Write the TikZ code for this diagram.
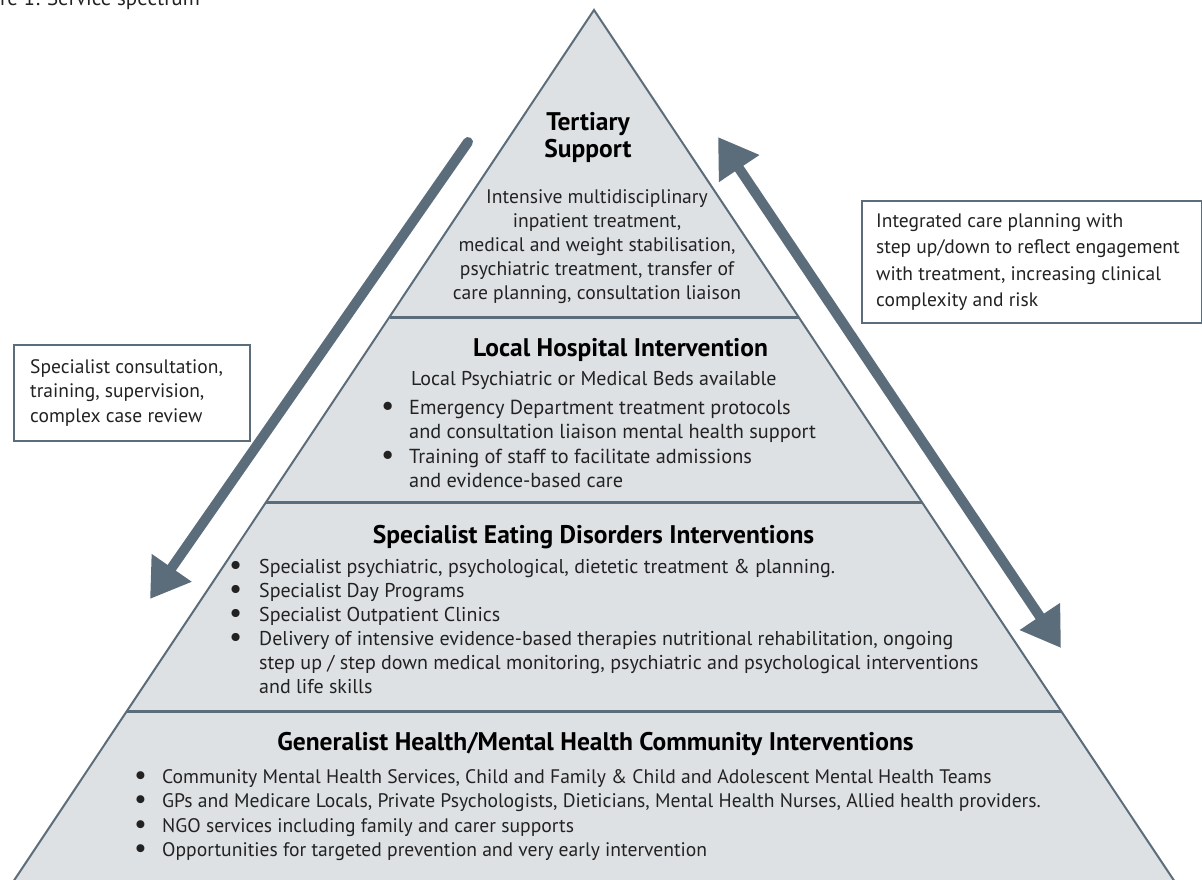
\documentclass[tikz,border=0pt]{standalone}
\usepackage{fontspec}
\setmainfont{PT Sans}
\usetikzlibrary{arrows.meta}
\definecolor{slate}{HTML}{5B6D7A}
\definecolor{pyrfill}{HTML}{DEE1E4}
\definecolor{txt}{HTML}{222222}
\newcommand\bdot{\smash{\raisebox{-1.2pt}{\scalebox{1.45}{\textbullet}}}}
\newcommand\bitem{\makebox[28pt][l]{\bdot}}
\newcommand\bitemw{\makebox[30pt][l]{\bdot}}
\begin{document}
\begin{tikzpicture}[x=1pt,y=-1pt,
  layer/.style={fill=pyrfill,draw=slate,line width=2pt,line join=miter},
  sep/.style={draw=slate,line width=3pt},
  bigarrow/.style={draw=slate,line width=10pt},
  box/.style={draw=slate,line width=2pt,fill=white},
  body/.style={inner sep=0pt,text=txt,font=\fontsize{19.5}{24.5}\selectfont},
  title/.style={inner sep=0pt,text=black,font=\bfseries\fontsize{25.5}{27}\selectfont},
]
\clip (0,0) rectangle (1202,879);
\fill[white] (0,0) rectangle (1202,879);

% pyramid
\coordinate (apex) at (594,10);
\coordinate (bl) at (1,900);
\coordinate (br) at (1187,900);
\path[layer] (apex) -- (bl) -- (br) -- cycle;
\coordinate (s1l) at (389.5,317); \coordinate (s1r) at (798.5,317);
\coordinate (s2l) at (266,502);   \coordinate (s2r) at (922,502);
\coordinate (s3l) at (127,711);   \coordinate (s3r) at (1061,711);
\draw[sep] (s1l) -- (s1r);
\draw[sep] (s2l) -- (s2r);
\draw[sep] (s3l) -- (s3r);

% caption
\node[body,anchor=base east,font=\fontsize{21}{24}\selectfont] (caption) at (200,5) {Figure 1: Service spectrum};

% tertiary
\node[title,anchor=base] (t1) at (588,130) {\begin{tabular}[t]{@{}c@{}}Tertiary\\Support\end{tabular}};
\node[body,anchor=base] (t2) at (597,203) {\fontsize{19.6}{24}\selectfont\begin{tabular}[t]{@{}c@{}}
Intensive multidisciplinary\\
inpatient treatment,\\
medical and weight stabilisation,\\
psychiatric treatment, transfer of\\
care planning, consultation liaison\end{tabular}};

% local hospital
\node[title,anchor=base] (l1) at (620.5,356) {Local Hospital Intervention};
\node[body,anchor=base west,font=\fontsize{20}{24.5}\selectfont] (l2) at (411,385) {Local Psychiatric or Medical Beds available};
\node[body,anchor=base west,font=\fontsize{20.3}{24.5}\selectfont] (l3) at (381,414) {\begin{tabular}[t]{@{}l@{}l@{}}
\bitem & Emergency Department treatment protocols\\
 & and consultation liaison mental health support\\
\bitem & Training of staff to facilitate admissions\\
 & and evidence-based care\end{tabular}};

% specialist
\node[title,anchor=base] (e1) at (593.5,543) {Specialist Eating Disorders Interventions};
\node[body,anchor=base west] (e2) at (229,573) {\fontsize{20}{24}\selectfont\begin{tabular}[t]{@{}l@{}l@{}}
\bitemw & Specialist psychiatric, psychological, dietetic treatment \& planning.\\
\bitemw & Specialist Day Programs\\
\bitemw & Specialist Outpatient Clinics\\
\bitemw & Delivery of intensive evidence-based therapies nutritional rehabilitation, ongoing\\
 & step up / step down medical monitoring, psychiatric and psychological interventions\\
 & and life skills\end{tabular}};

% generalist
\node[title,anchor=base] (g1) at (595.5,750) {Generalist Health/Mental Health Community Interventions};
\node[body,anchor=base west,font=\fontsize{19.6}{24.5}\selectfont] (g2) at (134,783) {\begin{tabular}[t]{@{}l@{}l@{}}
\bitem & Community Mental Health Services, Child and Family \& Child and Adolescent Mental Health Teams\\
\bitem & GPs and Medicare Locals, Private Psychologists, Dieticians, Mental Health Nurses, Allied health providers.\\
\bitem & NGO services including family and carer supports\\
\bitem & Opportunities for targeted prevention and very early intervention\end{tabular}};

% arrows
\coordinate (la1) at (468,142);
\coordinate (la2) at (150,599);
\draw[bigarrow,line cap=round,-{Triangle[length=38pt,width=46pt]}] (la1) -- (la2);
\coordinate (ra1) at (718,137);
\coordinate (ra2) at (1061,648);
\draw[bigarrow,{Triangle[length=38pt,width=46pt]}-{Triangle[length=38pt,width=46pt]}] (ra1) -- (ra2);

% side boxes
\node[box,anchor=north west,minimum width=236pt,minimum height=96pt,inner sep=0pt] (lbox) at (13,344) {};
\node[body,anchor=base west] (ltext) at (30,373) {\begin{tabular}[t]{@{}l@{}}
Specialist consultation,\\
training, supervision,\\
complex case review\end{tabular}};
\node[box,anchor=north west,minimum width=340pt,minimum height=122pt,inner sep=0pt] (rbox) at (861,200) {};
\node[body,anchor=base west] (rtext) at (876,227) {\fontsize{19.5}{26.5}\selectfont\begin{tabular}[t]{@{}l@{}}
Integrated care planning with\\
step up/down to reflect engagement\\
with treatment, increasing clinical\\
complexity and risk\end{tabular}};
\end{tikzpicture}
\end{document}
